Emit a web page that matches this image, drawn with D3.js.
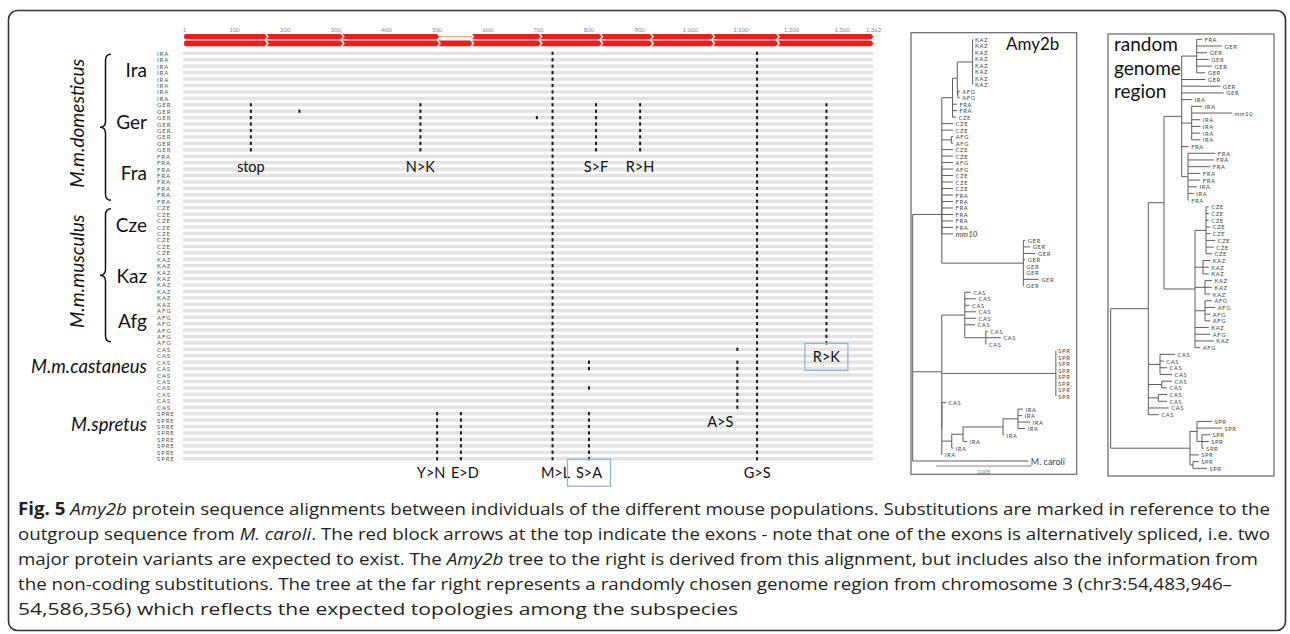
<!DOCTYPE html>
<html>
<head>
<meta charset="utf-8">
<script src="https://cdn.jsdelivr.net/npm/d3@7.9.0/dist/d3.min.js"></script>
<style>
  body { margin: 0; background: #fff; }
  svg { display: block; font-family: Lato, "Open Sans", sans-serif; }
</style>
</head>
<body>
<svg id="fig" width="1290" height="634"></svg>
<script>
// ---------------- data ----------------
const seqLength = 1362;
const rulerTicks = [1, 100, 200, 300, 400, 500, 600, 700, 800, 900, 1000, 1100, 1200, 1300, 1362];
const exonEnds = [164, 314, 504, 570, 705, 825, 925, 1046, 1174, 1362];
const altExon = 3; // skipped in the first protein variant

const populations = ["IRA", "GER", "FRA", "CZE", "KAZ", "AFG", "CAS", "SPRE"];
const popSizes = [8, 8, 8, 8, 8, 6, 10, 8];
const popNames = ["Ira", "Ger", "Fra", "Cze", "Kaz", "Afg"];
const subspecies = ["M.m.domesticus", "M.m.musculus"];
const subspeciesPops = [[0, 2], [3, 5]];
const otherTaxa = ["M.m.castaneus", "M.spretus"];
const otherTaxaPops = [6, 7];

// substitutions: label, alignment site, rows carrying it
const subLabels = ["stop", "", "N>K", "Y>N", "E>D", "", "M>L", "S>F", "S>A", "R>H", "A>S", "G>S", "R>K"];
const subSites = [133, 229, 468, 501, 548, 698, 729, 815, 801, 902, 1094, 1133, 1270];
const subRows = [
  [[8, 15]], [[9, 9]], [[8, 15]], [[56, 63]], [[56, 63]], [[10, 10]], [[0, 63]],
  [[8, 15]], [[48, 49], [52, 52], [56, 63]], [[8, 15]], [[46, 46], [48, 55]], [[0, 63]], [[8, 45]]
];
const boxedLabels = ["S>A", "R>K"];

// trees (branch lengths: Amy2b in 1e-4 subst./site, random region arbitrary)
const amyTree = "((((((KAZ:0,KAZ:0,KAZ:0,KAZ:0,KAZ:0,KAZ:0,KAZ:0,KAZ:0):8,(AFG:1,AFG:1):0.3):2.5,FRA:2.3,FRA:2.3,CZE:1.8):5.6,CZE:5.9,CZE:5.9,(AFG:1,AFG:1):5,CZE:5.9,CZE:5.9,AFG:5.9,AFG:5.9,CZE:5.9,CZE:5.9,CZE:5.9,FRA:5.9,FRA:5.9,FRA:5.9,FRA:5.9,FRA:5.9,FRA:5.9,mm10:5.9):0,(GER:1,GER:3.6,GER:6.3,GER:1,GER:0.2,GER:0.2,GER:8,GER:0.2):42.6):15.2,((CAS:3.1,CAS:5.9,CAS:2.5,CAS:5.9,CAS:5.9,CAS:5.4,(CAS:1,CAS:7.8,CAS:0.2):11):12,(SPR:0,SPR:0,SPR:0,SPR:0,SPR:0,SPR:0,SPR:0,SPR:0):59.6,(CAS:2.2,((((IRA:2.6,IRA:2.1,IRA:6.3,IRA:3.7):7.8,IRA:0.5):20.9,IRA:2.1):5.9,IRA:0.7):5.2,IRA:0.3):0):15.2,M. caroli:60.4);";
const randomTree = "(((((FRA:5.3,GER:25.3,GER:10.3,GER:12,GER:15.3,GER:8.6):15,GER:23.6,GER:38.6,GER:42,IRA:10.3,(IRA:10.3,mm10:40.3,IRA:8.6,IRA:8.6,IRA:8.6,IRA:8.6):10,FRA:7,(FRA:27.3,FRA:25.7,FRA:22.3,FRA:12.3,FRA:12.3,IRA:9,IRA:5.7,FRA:0.7):6.3):17.7,((CZE:2.7,CZE:2.7,CZE:2.7,CZE:4.3,CZE:4.3,CZE:9.3,CZE:7.7,CZE:6):11,(KAZ:7.3,KAZ:5.7,KAZ:5.7):8,(KAZ:7,KAZ:7,KAZ:5.3):10,(AFG:7,AFG:10.3,AFG:5.3,AFG:5.3):10,KAZ:13.7,AFG:15.3,KAZ:18.7,AFG:5.3):31):15.7,(CAS:15,CAS:3.7,CAS:7,CAS:12):11.7,(CAS:10.3,CAS:5.3):13.4,(CAS:8.7,CAS:8.7):10,CAS:20.4,CAS:10.4):37.6,((SPR:15,SPR:25,(SPR:8,SPR:6.7,SPR:1.7):5):7,SPR:8.7,(SPR:5.7,SPR:14):3):79.3);";
const amyScaleBar = 50; // = 0.005

const captionLines = [
  [["Fig. 5", "b"], [" "], ["Amy2b", "i"], [" protein sequence alignments between individuals of the different mouse populations. Substitutions are marked in reference to the"]],
  [["outgroup sequence from "], ["M. caroli", "i"], [". The red block arrows at the top indicate the exons - note that one of the exons is alternatively spliced, i.e. two"]],
  [["major protein variants are expected to exist. The "], ["Amy2b", "i"], [" tree to the right is derived from this alignment, but includes also the information from"]],
  [["the non-coding substitutions. The tree at the far right represents a randomly chosen genome region from chromosome 3 (chr3:54,483,946–"]],
  [["54,586,356) which reflects the expected topologies among the subspecies"]]
];
const captionWidths = [1252, 1252, 1240, 1214, 720];

// ---------------- helpers ----------------
function parseNewick(s) {
  const ancestors = [];
  let node = {};
  const tokens = s.split(/\s*(;|\(|\)|,|:)\s*/);
  for (let i = 0; i < tokens.length; i++) {
    const t = tokens[i];
    if (t === "(") { const c = {}; node.children = [c]; ancestors.push(node); node = c; }
    else if (t === ",") { const c = {}; ancestors[ancestors.length - 1].children.push(c); node = c; }
    else if (t === ")") { node = ancestors.pop(); }
    else if (t === ":" || t === ";" || t === "") { /* skip */ }
    else if (tokens[i - 1] === ":") node.length = parseFloat(t);
    else node.name = t;
  }
  return node;
}

const svg = d3.select("#fig");

// outer frame
svg.append("rect")
  .attr("x", 8.5).attr("y", 10.5).attr("width", 1277).attr("height", 620).attr("rx", 9)
  .attr("fill", "none").attr("stroke", "#333").attr("stroke-width", 1.6);

// ---------------- alignment panel ----------------
const x = d3.scaleLinear().domain([1, seqLength]).range([184, 873]);
const nRows = d3.sum(popSizes);
const popStart = Array.from(d3.cumsum([0, ...popSizes]));
const rowPop = popSizes.flatMap((n, i) => d3.range(n).map(() => i));
const y = d3.scaleLinear().domain([0, nRows - 1]).range([53.3, 458.7]);

// ruler
svg.append("g")
  .attr("transform", "translate(0,32)")
  .call(d3.axisTop(x).tickValues(rulerTicks).tickSize(0).tickPadding(0).tickFormat(d3.format(",")))
  .call(g => g.select(".domain").remove())
  .call(g => g.selectAll("text").attr("fill", "#8a8a8a").style("font-size", "6px").style("font-family", "Lato"));

// exons as block arrows, two protein variants
const exonStarts = [1, ...exonEnds.slice(0, -1).map(e => e + 1)];
function exonPath(i, top, h) {
  const x0 = x(exonStarts[i]) - 0.5, x1 = x(exonEnds[i]) + 0.5, p = 2.4, m = top + h / 2;
  const left = i === 0 ? `M${x0 + 1.5},${top}` : `M${x0},${top}`;
  const leftClose = i === 0 ? `L${x0 + 1.5},${top + h}Q${x0 - 0.5},${m} ${x0 + 1.5},${top}Z` : `L${x0},${top + h}L${x0 + p},${m}Z`;
  return `${left}L${x1 - p},${top}L${x1},${m}L${x1 - p},${top + h}${leftClose}`;
}
const tracks = [{ top: 34, h: 5.2, skip: altExon }, { top: 40.6, h: 5.6, skip: -1 }];
tracks.forEach(t => {
  const g = svg.append("g");
  g.selectAll("path").data(d3.range(exonEnds.length).filter(i => i !== t.skip)).join("path")
    .attr("d", i => exonPath(i, t.top, t.h))
    .attr("fill", "#f01c1c");
  if (t.skip >= 0) {
    g.append("line")
      .attr("x1", x(exonStarts[t.skip])).attr("x2", x(exonEnds[t.skip]))
      .attr("y1", t.top + t.h / 2).attr("y2", t.top + t.h / 2)
      .attr("stroke", "#f39a7a").attr("stroke-width", 1);
  }
});

// sequence rows
svg.append("g").selectAll("rect").data(d3.range(nRows)).join("rect")
  .attr("x", x(1) - 1).attr("width", x(seqLength) - x(1) + 1)
  .attr("y", d => y(d) - 1.7).attr("height", 3.4)
  .attr("fill", "#e3e3e3");

svg.append("g").selectAll("text").data(d3.range(nRows)).join("text")
  .attr("x", 157).attr("y", d => y(d))
  .attr("dominant-baseline", "central")
  .style("font-size", "6px").style("letter-spacing", "0.9px")
  .attr("fill", "#555")
  .text(d => populations[rowPop[d]]);

// substitution marks
const marks = subSites.flatMap((s, i) =>
  subRows[i].flatMap(([a, b]) => d3.range(a, b + 1).map(r => ({ site: s, row: r }))));
svg.append("g").selectAll("rect").data(marks).join("rect")
  .attr("x", d => x(d.site) - 1).attr("y", d => y(d.row) - 1.6)
  .attr("width", 2).attr("height", 3.2)
  .attr("fill", "#1a1a1a");

// substitution labels
const labelShift = { "Y>N": -6, "E>D": 4, "M>L": 3, "A>S": -4 };
const subG = svg.append("g").style("font-size", "14.5px").attr("fill", "#111");
subLabels.forEach((lab, i) => {
  if (!lab) return;
  const last = d3.max(subRows[i], r => r[1]);
  const ly = y(last) + (last < 20 ? 17 : 14);
  const anchorEnd = lab === "A>S";
  const lx = x(subSites[i]) + (labelShift[lab] || 0);
  subG.append("text")
    .attr("x", lx).attr("y", ly)
    .attr("text-anchor", anchorEnd ? "end" : "middle")
    .attr("dominant-baseline", "central")
    .text(lab);
  if (boxedLabels.includes(lab)) {
    subG.append("rect")
      .attr("x", lx - 21.5).attr("y", ly - 13.5).attr("width", 43).attr("height", 27)
      .attr("fill", "none").attr("stroke", "#8fb3da").attr("stroke-width", 1.3);
  }
});

// population labels
const popCenter = i => (y(popStart[i]) + y(popStart[i] + popSizes[i] - 1)) / 2;
svg.append("g").selectAll("text").data(popNames).join("text")
  .attr("x", 147).attr("y", (d, i) => popCenter(i) - 6)
  .attr("text-anchor", "end").attr("dominant-baseline", "central")
  .style("font-size", "19px").attr("fill", "#111")
  .text(d => d);

svg.append("g").selectAll("text").data(otherTaxa).join("text")
  .attr("x", 147).attr("y", (d, i) => popCenter(otherTaxaPops[i]) - 12)
  .attr("text-anchor", "end").attr("dominant-baseline", "central")
  .style("font-size", "18.5px").style("font-style", "italic").attr("fill", "#111")
  .text(d => d);

// braces and subspecies names
function bracePath(bx, y0, y1) {
  const w = 11, q = 6, ym = (y0 + y1) / 2, xm = bx + w / 2;
  return `M${bx + w},${y0}Q${xm},${y0} ${xm},${y0 + q}L${xm},${ym - q}Q${xm},${ym} ${bx},${ym}` +
         `Q${xm},${ym} ${xm},${ym + q}L${xm},${y1 - q}Q${xm},${y1} ${bx + w},${y1}`;
}
subspecies.forEach((name, i) => {
  const [p0, p1] = subspeciesPops[i];
  const y0 = y(popStart[p0]) + 1, y1 = y(popStart[p1] + popSizes[p1] - 1) - 1;
  svg.append("path").attr("d", bracePath(100, y0, y1))
    .attr("fill", "none").attr("stroke", "#111").attr("stroke-width", 1.5);
  svg.append("text")
    .attr("transform", `translate(76,${(y0 + y1) / 2 - 4}) rotate(-90)`)
    .attr("text-anchor", "middle").attr("dominant-baseline", "central")
    .style("font-size", "19px").style("font-style", "italic").attr("fill", "#111")
    .text(name);
});

// ---------------- trees ----------------
function drawTree(newick, xs, ys, big) {
  const root = d3.hierarchy(parseNewick(newick));
  root.eachBefore(d => d.len = d.parent ? d.parent.len + (d.data.length || 0) : 0);
  root.leaves().forEach((d, i) => d.row = i);
  root.eachAfter(d => {
    if (d.children) d.row = (d.children[0].row + d.children[d.children.length - 1].row) / 2;
  });
  const g = svg.append("g").attr("stroke", "#5e5e5e").attr("stroke-width", 1);
  g.selectAll("line.h").data(root.descendants().filter(d => d.parent)).join("line")
    .attr("class", "h")
    .attr("x1", d => xs(d.parent.len)).attr("x2", d => xs(d.len))
    .attr("y1", d => ys(d.row)).attr("y2", d => ys(d.row));
  g.selectAll("line.v").data(root.descendants().filter(d => d.children)).join("line")
    .attr("class", "v")
    .attr("x1", d => xs(d.len)).attr("x2", d => xs(d.len))
    .attr("y1", d => ys(d.children[0].row)).attr("y2", d => ys(d.children[d.children.length - 1].row));
  const special = d => big && /^(mm10|M\.)/.test(d.data.name);
  svg.append("g").selectAll("text").data(root.leaves()).join("text")
    .attr("x", d => xs(d.len) + 2.5).attr("y", d => ys(d.row))
    .attr("dominant-baseline", "central")
    .attr("fill", "#444")
    .style("font-size", d => special(d) ? (d.data.name === "mm10" ? "8px" : "9px") : "5.8px")
    .style("letter-spacing", d => special(d) ? "0px" : "0.6px")
    .style("font-style", d => special(d) && d.data.name === "mm10" ? "italic" : null)
    .text(d => d.data.name);
}

// Amy2b tree
svg.append("rect").attr("x", 911).attr("y", 32.7).attr("width", 165.7).attr("height", 441.6)
  .attr("fill", "none").attr("stroke", "#666").attr("stroke-width", 1.2);
svg.append("text").attr("x", 1006).attr("y", 43.5).attr("dominant-baseline", "central")
  .style("font-size", "17px").attr("fill", "#111").text("Amy2b");
const amyX = d3.scaleLinear().domain([0, 50]).range([912.7, 1008.4]);
const amyY = d3.scaleLinear().domain([0, 65]).range([39.3, 461]);
drawTree(amyTree, amyX, amyY, true);
svg.append("line")
  .attr("x1", 936).attr("x2", 936 + amyX(amyScaleBar) - amyX(0))
  .attr("y1", 466).attr("y2", 466).attr("stroke", "#888").attr("stroke-width", 1.2);
svg.append("text").attr("x", 936 + (amyX(amyScaleBar) - amyX(0)) / 2).attr("y", 471.5)
  .attr("text-anchor", "middle").attr("dominant-baseline", "central")
  .style("font-size", "5px").attr("fill", "#666").text(d3.format(".3f")(amyScaleBar / 10000));

// random genome region tree
svg.append("rect").attr("x", 1108).attr("y", 34).attr("width", 166).attr("height", 442)
  .attr("fill", "none").attr("stroke", "#666").attr("stroke-width", 1.2);
svg.append("g").selectAll("text").data(["random", "genome", "region"]).join("text")
  .attr("x", 1114).attr("y", (d, i) => 43.5 + i * 23.7)
  .attr("dominant-baseline", "central")
  .style("font-size", "19px").attr("fill", "#111")
  .text(d => d);
const rndX = d3.scaleLinear().domain([0, 100]).range([1110.7, 1210.7]);
const rndY = d3.scaleLinear().domain([0, 64]).range([39.3, 468.3]);
drawTree(randomTree, rndX, rndY, false);

// ---------------- caption ----------------
const cap = svg.append("g").style("font-family", "'Open Sans', sans-serif")
  .style("font-size", "17px").attr("fill", "#231f20");
captionLines.forEach((segs, i) => {
  const t = cap.append("text").attr("x", 18).attr("y", 515 + i * 25)
    .attr("textLength", captionWidths[i]).attr("lengthAdjust", "spacingAndGlyphs");
  segs.forEach(([txt, st]) => {
    t.append("tspan")
      .style("font-weight", st === "b" ? "bold" : null)
      .style("font-style", st === "i" ? "italic" : null)
      .text(txt);
  });
});
</script>
</body>
</html>
